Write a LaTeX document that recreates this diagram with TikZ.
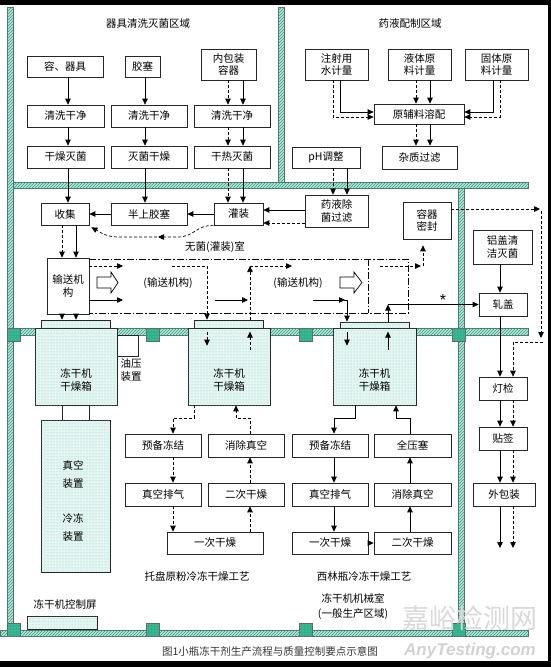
\documentclass[tikz,border=0pt]{standalone}
\usepackage{fontspec}
\setmainfont{Noto Sans CJK SC}
\newfontfamily\latinf{Liberation Sans}
\usetikzlibrary{arrows.meta,patterns,calc}
\definecolor{wallL}{RGB}{185,228,216}
\definecolor{wallD}{RGB}{40,165,135}
\definecolor{pillarc}{RGB}{40,180,140}
\definecolor{dryc}{RGB}{228,246,241}
\newcommand{\mybox}[7][box]{\node[#1, minimum width={(#5-#3)*1pt}, minimum height={(#6-#4)*1pt}] (#2) at ({(#3+#5)/2},{(#4+#6)/2}) {#7};}
\begin{document}
\begin{tikzpicture}[x=1pt,y=-1pt,font=\fontsize{10.5}{12.5}\selectfont,
  box/.style={draw=black!85, line width=0.7pt, fill=white, inner sep=0pt, align=center},
  dryer/.style={draw=black!85, line width=0.7pt, fill=dryc, postaction={pattern=dots, pattern color=teal!45}, inner sep=0pt},
  txt/.style={align=center, inner sep=0pt},
  arr/.style={line width=0.75pt, -{Triangle[length=6pt,width=5.5pt]}},
  dsh/.style={dash pattern=on 3pt off 2pt},
  dd/.style={line width=0.7pt, dash pattern=on 7pt off 2pt on 1.5pt off 2pt},
  wall/.style={draw=black!60, line width=0.4pt, fill=wallL, postaction={pattern=north east lines, pattern color=wallD}},
  pillar/.style={draw=black!60, line width=0.4pt, fill=pillarc, postaction={pattern=dots, pattern color=black!25}}]
\fill[black] (0,0) rectangle (551,667);
\fill[white] (0,5) rectangle (548,661);
\useasboundingbox (0,0) rectangle (551,667);
% ---- walls ----
\path[wall] (7,7) rectangle (13,630);
\path[wall] (278,7) rectangle (284,182);
\path[wall] (13,182) rectangle (528,188);
\path[wall] (458,188) rectangle (464,630);
\path[wall] (13,328) rectangle (528,335);
\path[wall] (0,630) rectangle (528,636);
\foreach \px in {7,146,299,452} {
  \path[pillar] (\px,328) rectangle ({\px+13},341);
  \path[pillar] (\px,623) rectangle ({\px+13},636);
}
% ---- helper coordinates ----
\foreach \v in {62,68,76,145,173,194,207,215,228,236,243,248,250,292,313,333,334,340,344,345,347,355,380,388,396,410,416,421,423,430,493,500,513,540,541,543}
  {\coordinate (X\v) at (\v,0);}
\foreach \v in {112,117,123,209,210,211,223,245,259,266,300,313,338,342,418,548}
  {\coordinate (Y\v) at (0,\v);}
\coordinate (c172) at (172,266);
\coordinate (c123a) at (123,266);
\coordinate (c123b) at (123,300);
\coordinate (c158) at (158,237);
% ---- titles ----
\node[txt] (T1) at (148,24) {器具清洗灭菌区域};
\node[txt] (T2) at (410,23) {药液配制区域};
% ---- top-left boxes ----
\mybox{A1}{27}{56}{103}{77}{容、器具}
\mybox{A2}{125}{56}{160}{77}{胶塞}
\mybox{A3}{201}{49}{256}{80}{内包装\\容器}
\mybox{B1}{27}{105}{104}{127}{清洗干净}
\mybox{B2}{111}{105}{187}{127}{清洗干净}
\mybox{B3}{194}{105}{270}{127}{清洗干净}
\mybox{C1}{27}{146}{104}{168}{干燥灭菌}
\mybox{C2}{111}{146}{187}{168}{灭菌干燥}
\mybox{C3}{194}{146}{270}{168}{干热灭菌}
% ---- top-right boxes ----
\mybox{P1}{305}{49}{368}{80}{注射用\\水计量}
\mybox{P2}{388}{49}{451}{80}{液体原\\料计量}
\mybox{P3}{465}{49}{528}{80}{固体原\\料计量}
\mybox{Q}{374}{104}{464}{124}{原辅料溶配}
\mybox{R}{382}{146}{457}{169}{杂质过滤}
\mybox{pH}{292}{147}{360}{168}{pH调整}
% ---- middle ----
\mybox{D1}{41}{203}{89}{225}{收集}
\mybox{D2}{111}{203}{187}{225}{半上胶塞}
\mybox{D3}{214}{203}{263}{225}{灌装}
\mybox{E}{305}{195}{368}{227}{药液除\\菌过滤}
\mybox{F}{403}{202}{451}{239}{容器\\密封}
\mybox{G}{473}{230}{532}{264}{铝盖清\\洁灭菌}
\mybox{H}{479}{293}{527}{316}{轧盖}
\mybox{K}{47}{258}{89}{314}{输送机\\构}
\node[txt] (L0) at (215,247) {无菌(灌装)室};
% dash-dot conveyor
\draw[dd] (K.east |- Y259) -- (408,259) -- (408,313) -- (K.east |- Y313);
\draw[dd] (368,259) -- (368,313);
\node[txt] (cv1) at (168,283) {(输送机构)};
\node[txt] (cv2) at (298,283) {(输送机构)};
\draw[line width=0.7pt, fill=white] (97,277) -- (111,277) -- (111,272) -- (118,282.5) -- (111,293) -- (111,288) -- (97,288) -- cycle;
\draw[line width=0.7pt, fill=white] (340,277) -- (354,277) -- (354,272) -- (362,282.5) -- (354,293) -- (354,288) -- (340,288) -- cycle;
% ---- freeze dryers ----
\mybox[dryer]{Pl1}{41}{320}{110}{328}{}
\mybox[dryer]{Pl2}{194}{320}{263}{328}{}
\mybox[dryer]{Pl3}{340}{322}{409}{328}{}
\mybox[dryer]{Dry1}{35}{328}{117}{405}{}
\mybox[dryer]{Dry2}{188}{328}{270}{405}{}
\mybox[dryer]{Dry3}{333}{328}{416}{405}{}
\node[txt] at (76,380) {冻干机\\干燥箱};
\node[txt] at (229,380) {冻干机\\干燥箱};
\node[txt] at (374.5,380) {冻干机\\干燥箱};
\mybox{Oil}{117}{335}{138}{356}{}
\node[txt] (OilT) at (131,370) {油压\\装置};
\mybox{Con1}{62}{405}{89}{420}{}
\mybox[dryer]{Vac}{41}{420}{110}{572}{}
\node[txt] at (73,465) {真空};
\node[txt] at (73,484) {装置};
\node[txt] at (73,518) {冷冻};
\node[txt] at (73,537) {装置};
% ---- lower process boxes ----
\mybox{L1}{125}{434}{201}{457}{预备冻结}
\mybox{L2}{208}{434}{284}{457}{消除真空}
\mybox{L3}{125}{483}{201}{506}{真空排气}
\mybox{L4}{208}{483}{284}{506}{二次干燥}
\mybox{L5}{167}{532}{263}{554}{一次干燥}
\mybox{M1}{292}{434}{368}{457}{预备冻结}
\mybox{M2}{374}{434}{451}{457}{全压塞}
\mybox{M3}{292}{483}{368}{506}{真空排气}
\mybox{M4}{374}{483}{451}{506}{消除真空}
\mybox{M5}{292}{532}{368}{554}{一次干燥}
\mybox{M6}{374}{532}{451}{554}{二次干燥}
\mybox{N1}{479}{377}{527}{400}{灯检}
\mybox{N2}{479}{427}{527}{450}{贴签}
\mybox{N3}{473}{483}{535}{506}{外包装}
\node[txt] at (197,576) {托盘原粉冷冻干燥工艺};
\node[txt] at (364,576) {西林瓶冷冻干燥工艺};
\node[txt] at (353,598) {冻干机机械室};
\node[txt] at (353,614) {(一般生产区域)};
\node[txt] at (65,604) {冻干机控制屏};
\mybox[dryer]{Pan}{27}{616}{97}{629}{}
\node[txt, text=black!80] (cap) at (270,651) {图1小瓶冻干剂生产流程与质量控制要点示意图};
\node[txt, text=gray!30, font=\fontsize{27}{27}\selectfont] at (470,618) {嘉峪检测网};
\node[txt, text=gray!35, font=\latinf\itshape\bfseries\fontsize{17}{17}\selectfont] at (470,651) {AnyTesting.com};
% ---- arrows top-left ----
\draw[arr] (A1.south -| X68) -- (B1.north -| X68);
\draw[arr] (B1.south -| X68) -- (C1.north -| X68);
\draw[arr] (C1.south -| X68) -- (D1.north -| X68);
\draw[arr] (A2.south -| X145) -- (B2.north -| X145);
\draw[arr] (B2.south -| X145) -- (C2.north -| X145);
\draw[arr] (C2.south -| X145) -- (D2.north -| X145);
\draw[arr] (A3.south -| X243) -- (B3.north -| X243);
\draw[arr] (B3.south -| X243) -- (C3.north -| X243);
\draw[arr] (C3.south -| X243) -- (D3.north -| X243);
\draw[arr,dsh] (A3.south -| X228) -- (B3.north -| X228);
\draw[arr,dsh] (B3.south -| X228) -- (C3.north -| X228);
\draw[arr,dsh] (C3.south -| X228) -- (D3.north -| X228);
% ---- arrows top-right ----
\draw[arr] (P1.south -| X340) |- (Q.west |- Y112);
\draw[arr,dsh] (P1.south -| X333) |- (Q.west |- Y117);
\draw[arr] (P3.south -| X493) |- (Q.east |- Y112);
\draw[arr,dsh] (P3.south -| X500) |- (Q.east |- Y117);
\draw[arr] (P2.south -| X430) -- (Q.north -| X430);
\draw[arr,dsh] (P2.south -| X416) -- (Q.north -| X416);
\draw[arr] (Q.south -| X430) -- (R.north -| X430);
\draw[arr,dsh] (Q.south -| X416) -- (R.north -| X416);
\draw[arr] (pH.south -| X347) -- (E.north -| X347);
\draw[arr,dsh] (pH.south -| X333) -- (E.north -| X333);
% ---- middle arrows ----
\draw[arr] (D2.west) -- (D1.east);
\draw[arr] (D3.west) -- (D2.east);
\draw[arr] (E.west |- Y210) -- (D3.east |- Y210);
\draw[arr,dsh] (E.west |- Y223) -- (D3.east |- Y223);
\draw[arr,dsh, line width=0.7pt] (D3.south west) .. controls (196,225) and (194,237) .. (178,237) -- (c158);
\draw[arr,dsh, line width=0.7pt] (162,237) -- (118,237) .. controls (106,237) and (100,232) .. ($(D1.south east)+(2,2)$);
\draw[arr] (D1.south -| X76) -- (K.north -| X76);
\draw[arr,dsh] (D1.south -| X62) -- (K.north -| X62);
\draw[arr] (K.south -| X76) -- (Pl1.north -| X76);
\draw[arr,dsh] (K.south -| X62) -- (Pl1.north -| X62);
\draw[arr,dsh] (K.east |- Y266) -- (c123a);
\draw[arr] (K.east |- Y300) -- (c123b);
\draw[arr,dsh] (c172) -| (Pl2.north -| X207);
\draw[arr,dsh] ($(Dry2.north -| X207)+(0,4)$) -- ($(Dry2.north -| X207)+(0,18)$);
\draw[arr,dsh] ($(Dry2.north -| X250)+(0,22)$) -- ($(Dry2.north -| X250)+(0,4)$);
\draw[arr] (X215 |- Y300) -- (X248 |- Y300);
\draw[arr,dsh] (Pl2.north -| X250) -- (X250 |- Y266);
\draw[arr,dsh] (X250 |- Y266) -- (X292 |- Y266);
\draw[arr] (X313 |- Y300) -- (X345 |- Y300);
\draw[arr] (X344 |- Y300) -| (Pl3.north -| X347);
\draw[arr] ($(Dry3.north -| X347)+(0,4)$) -- ($(Dry3.north -| X347)+(0,18)$);
\draw[arr] ($(Dry3.north -| X388)+(0,22)$) -- ($(Dry3.north -| X388)+(0,4)$);
\draw[arr] (Pl3.north -| X388) -- (X388 |- H.west);
\draw[arr] (X388 |- H.west) -- (H.west);
\node[txt, font=\latinf\fontsize{16}{16}\selectfont] (star) at (443,300) {*};
\draw[arr,dsh] (X380 |- Y266) -- (X421 |- Y266);
\draw[arr,dsh] (X423 |- Y266) -- ($(F.south -| X423)+(0,6)$);
% ---- right column ----
\draw[arr,dsh] (F.east |- Y209) -- (X540 |- Y209);
\draw[arr,dsh] (X541 |- Y211) -- (X541 |- Y338);
\draw[arr,dsh] (X543 |- Y342) -| (N1.north -| X513);
\draw[arr] (G.south -| X500) -- (H.north -| X500);
\draw[arr] (H.south -| X500) -- (N1.north -| X500);
\draw[arr] (N1.south -| X500) -- (N2.north -| X500);
\draw[arr,dsh] (N1.south -| X513) -- (N2.north -| X513);
\draw[arr] (N2.south -| X500) -- (N3.north -| X500);
\draw[arr,dsh] (N2.south -| X513) -- (N3.north -| X513);
\draw[arr] (N3.south -| X500) -- (X500 |- Y548);
\draw[arr,dsh] (N3.south -| X513) -- (X513 |- Y548);
% ---- lower arrows ----
\draw[arr,dsh] (Dry2.south -| X194) |- (X173 |- Y418) -- (L1.north -| X173);
\draw[arr,dsh] (L2.north -| X250) |- (X236 |- Y418) -- (Dry2.south -| X236);
\draw[arr,dsh] (L1.south -| X173) -- (L3.north -| X173);
\draw[arr,dsh] (L4.north -| X250) -- (L2.south -| X250);
\draw[arr,dsh] (L3.south -| X173) -- (L5.north -| X173);
\draw[arr,dsh] (L5.north -| X250) -- (L4.south -| X250);
\draw[arr] (Dry3.south -| X355) |- (X334 |- Y418) -- (M1.north -| X334);
\draw[arr] (M2.north -| X410) |- (X396 |- Y418) -- (Dry3.south -| X396);
\draw[arr] (M1.south -| X334) -- (M3.north -| X334);
\draw[arr] (M4.north -| X410) -- (M2.south -| X410);
\draw[arr] (M3.south -| X334) -- (M5.north -| X334);
\draw[arr] (M5.east) -- (M6.west);
\draw[arr] (M6.north -| X410) -- (M4.south -| X410);
\end{tikzpicture}
\end{document}
